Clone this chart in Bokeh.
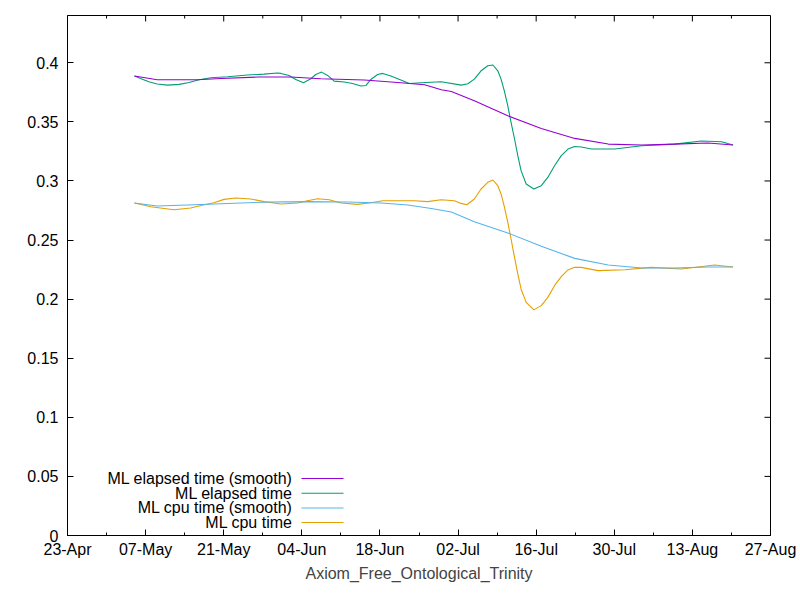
import pandas as pd
from bokeh.plotting import figure
from bokeh.models import (FixedTicker, DatetimeTickFormatter, Range1d, Label, BoxAnnotation)
from bokeh.embed import file_html
from bokeh.resources import INLINE

# ---------------- data ----------------
elapsed_dates = ["2019-05-05 00:00", "2019-05-06 02:00", "2019-05-07 14:00", "2019-05-09 02:00",
                 "2019-05-10 22:00", "2019-05-13 00:00", "2019-05-14 19:00", "2019-05-16 14:00",
                 "2019-05-18 17:00", "2019-05-21 17:00", "2019-05-25 06:00", "2019-05-28 05:00",
                 "2019-05-30 14:00", "2019-05-31 06:00", "2019-06-01 17:00", "2019-06-02 22:00",
                 "2019-06-04 07:00", "2019-06-05 15:00", "2019-06-06 12:00", "2019-06-07 13:00",
                 "2019-06-08 15:00", "2019-06-09 19:00", "2019-06-11 14:00", "2019-06-13 02:00",
                 "2019-06-14 14:00", "2019-06-15 12:00", "2019-06-16 09:00", "2019-06-17 14:00",
                 "2019-06-18 12:00", "2019-06-19 23:00", "2019-06-21 18:00", "2019-06-23 06:00",
                 "2019-06-25 10:00", "2019-06-29 00:00",
                 "2019-07-02 13:00", "2019-07-03 18:00", "2019-07-04 22:00", "2019-07-06 03:00",
                 "2019-07-07 08:00", "2019-07-08 06:00", "2019-07-09 03:00", "2019-07-09 17:00",
                 "2019-07-10 07:00", "2019-07-10 22:00", "2019-07-11 12:00", "2019-07-12 03:00",
                 "2019-07-12 17:00", "2019-07-13 07:00", "2019-07-14 05:00", "2019-07-15 14:00",
                 "2019-07-16 22:00", "2019-07-18 02:00", "2019-07-19 07:00", "2019-07-20 12:00",
                 "2019-07-21 17:00", "2019-07-22 21:00", "2019-07-24 02:00", "2019-07-25 22:00",
                 "2019-07-30 02:00", "2019-08-03 22:00", "2019-08-09 19:00", "2019-08-14 14:00",
                 "2019-08-18 05:00", "2019-08-20 07:00"]
elapsed_values = [0.3888, 0.3867, 0.3839, 0.3820, 0.3811, 0.3817, 0.3833, 0.3856,
                  0.3873, 0.3882, 0.3896, 0.3904, 0.3913, 0.3910, 0.3893, 0.3859,
                  0.3831, 0.3865, 0.3901, 0.3921, 0.3893, 0.3845, 0.3837, 0.3825,
                  0.3803, 0.3808, 0.3859, 0.3901, 0.3910, 0.3888, 0.3854, 0.3825,
                  0.3831, 0.3839,
                  0.3811, 0.3822, 0.3862, 0.3932, 0.3975, 0.3981, 0.3932, 0.3862,
                  0.3763, 0.3636, 0.3495, 0.3355, 0.3214, 0.3087, 0.2974, 0.2932,
                  0.2960, 0.3030, 0.3129, 0.3214, 0.3270, 0.3292, 0.3287, 0.3270,
                  0.3270, 0.3298, 0.3312, 0.3338, 0.3332, 0.3304]

elapsed_smooth_dates = ["2019-05-05 00:00", "2019-05-09 02:00", "2019-05-16 07:00", "2019-05-20 12:00",
                        "2019-05-27 02:00", "2019-06-02 00:00", "2019-06-07 10:00", "2019-06-15 05:00",
                        "2019-06-21 05:00", "2019-06-26 00:00", "2019-06-29 00:00", "2019-06-30 19:00",
                        "2019-07-04 22:00", "2019-07-10 22:00", "2019-07-16 22:00", "2019-07-22 22:00",
                        "2019-07-28 22:00", "2019-08-03 22:00", "2019-08-09 19:00", "2019-08-15 19:00",
                        "2019-08-20 07:00"]
elapsed_smooth_values = [0.3888, 0.3856, 0.3856, 0.3867, 0.3879, 0.3879, 0.3865, 0.3854,
                         0.3833, 0.3814, 0.3772, 0.3757, 0.3679, 0.3552, 0.3444, 0.3360,
                         0.3312, 0.3304, 0.3312, 0.3321, 0.3304]

cpu_dates = ["2019-05-05 00:00", "2019-05-07 22:00", "2019-05-12 02:00", "2019-05-15 02:00",
             "2019-05-16 22:00", "2019-05-19 06:00", "2019-05-21 01:00", "2019-05-23 04:00",
             "2019-05-25 20:00", "2019-05-28 06:00", "2019-05-31 06:00", "2019-06-03 06:00",
             "2019-06-05 00:00", "2019-06-06 20:00", "2019-06-08 22:00", "2019-06-11 00:00",
             "2019-06-14 00:00", "2019-06-16 09:00", "2019-06-18 12:00", "2019-06-24 04:00",
             "2019-06-26 13:00", "2019-06-28 23:00", "2019-07-01 08:00", "2019-07-02 13:00",
             "2019-07-03 14:00", "2019-07-04 22:00", "2019-07-06 03:00",
             "2019-07-07 08:00", "2019-07-08 06:00", "2019-07-09 03:00", "2019-07-09 17:00",
             "2019-07-10 07:00", "2019-07-10 22:00", "2019-07-11 12:00", "2019-07-12 03:00",
             "2019-07-12 17:00", "2019-07-13 07:00", "2019-07-14 05:00", "2019-07-15 14:00",
             "2019-07-16 22:00", "2019-07-18 02:00", "2019-07-19 07:00", "2019-07-20 12:00",
             "2019-07-21 17:00", "2019-07-22 21:00", "2019-07-24 02:00", "2019-07-27 02:00",
             "2019-07-31 22:00", "2019-08-05 14:00", "2019-08-11 00:00", "2019-08-17 00:00",
             "2019-08-20 07:00"]
cpu_values = [0.2814, 0.2782, 0.2757, 0.2771, 0.2793, 0.2816, 0.2844, 0.2856,
              0.2847, 0.2825, 0.2805, 0.2814, 0.2833, 0.2850, 0.2841, 0.2814,
              0.2802, 0.2816, 0.2833, 0.2833, 0.2825, 0.2841, 0.2833, 0.2810,
              0.2799, 0.2847, 0.2932,
              0.2988, 0.3008, 0.2960, 0.2890, 0.2782, 0.2649, 0.2509, 0.2353,
              0.2213, 0.2086, 0.1973, 0.1909, 0.1945, 0.2015, 0.2114, 0.2190,
              0.2247, 0.2269, 0.2269, 0.2241, 0.2249, 0.2269, 0.2255, 0.2289,
              0.2272]

cpu_smooth_dates = ["2019-05-05 00:00", "2019-05-09 02:00", "2019-05-14 12:00", "2019-05-19 07:00",
                    "2019-05-24 02:00", "2019-05-29 10:00", "2019-06-05 00:00", "2019-06-12 05:00",
                    "2019-06-18 05:00", "2019-06-23 00:00", "2019-06-27 05:00", "2019-06-30 19:00",
                    "2019-07-04 22:00", "2019-07-10 22:00", "2019-07-16 22:00", "2019-07-22 22:00",
                    "2019-07-28 22:00", "2019-08-03 22:00", "2019-08-09 19:00", "2019-08-15 19:00",
                    "2019-08-20 07:00"]
cpu_smooth_values = [0.2814, 0.2788, 0.2797, 0.2805, 0.2814, 0.2822, 0.2825, 0.2822,
                     0.2814, 0.2797, 0.2767, 0.2737, 0.2655, 0.2560, 0.2447, 0.2345,
                     0.2289, 0.2264, 0.2264, 0.2272, 0.2272]

x_tick_dates = ["2019-04-23", "2019-05-07", "2019-05-21", "2019-06-04", "2019-06-18",
                "2019-07-02", "2019-07-16", "2019-07-30", "2019-08-13", "2019-08-27"]
x_minor_dates = ["2019-04-30", "2019-05-14", "2019-05-28", "2019-06-11", "2019-06-25",
                 "2019-07-09", "2019-07-23", "2019-08-06", "2019-08-20"]
y_ticks = [0, 0.05, 0.1, 0.15, 0.2, 0.25, 0.3, 0.35, 0.4]
y_tick_labels = ["0", "0.05", "0.1", "0.15", "0.2", "0.25", "0.3", "0.35", "0.4"]
y_max = 0.44

series_names = ["ML elapsed time (smooth)", "ML elapsed time", "ML cpu time (smooth)", "ML cpu time"]
series_colors = ["#9400D3", "#009E73", "#56B4E9", "#E69F00"]
x_title = "Axiom_Free_Ontological_Trinity"

# ---------------- figure ----------------
FONT = "Liberation Sans"
FS = "16px"
W, H = 800, 600
BL, BR, BT, BB = 67, 30, 15, 65
FW, FH = W - BL - BR, H - BT - BB


def ms(s):
    return pd.Timestamp(s).value / 1e6


x0, x1 = ms(x_tick_dates[0]), ms(x_tick_dates[-1])
p = figure(width=W, height=H, output_backend="svg", toolbar_location=None,
           x_axis_type="datetime",
           x_range=Range1d(x0, x1), y_range=Range1d(0, y_max),
           min_border_left=BL, min_border_right=BR, min_border_top=BT, min_border_bottom=BB)
p.background_fill_color = "white"
p.border_fill_color = "white"
p.outline_line_color = "black"
p.outline_line_width = 1
p.xgrid.visible = False
p.ygrid.visible = False

xt = FixedTicker(ticks=[ms(d) for d in x_tick_dates], minor_ticks=[ms(d) for d in x_minor_dates])
yt = FixedTicker(ticks=y_ticks, minor_ticks=[])
fmt = DatetimeTickFormatter(milliseconds="%d-%b", seconds="%d-%b", minsec="%d-%b",
                            minutes="%d-%b", hourmin="%d-%b", hours="%d-%b", days="%d-%b",
                            months="%d-%b", years="%d-%b")

for ax in (p.xaxis[0], p.yaxis[0]):
    ax.axis_line_color = "black"
    ax.major_tick_line_color = "black"
    ax.minor_tick_line_color = "black"
    ax.major_tick_in = 6
    ax.major_tick_out = 0
    ax.minor_tick_in = 3
    ax.minor_tick_out = 0
    ax.major_label_text_font = FONT
    ax.major_label_text_font_size = FS
    ax.major_label_text_color = "black"

xa = p.xaxis[0]
xa.ticker = xt
xa.formatter = fmt
xa.major_label_standoff = 5
xa.axis_label = x_title
xa.axis_label_text_font = FONT
xa.axis_label_text_font_size = FS
xa.axis_label_text_font_style = "normal"
xa.axis_label_standoff = 4

ya = p.yaxis[0]
ya.ticker = yt
ya.major_label_overrides = {t: l for t, l in zip(y_ticks, y_tick_labels)}
ya.major_label_standoff = 9

# mirrored ticks on top and right border (gnuplot style)
dx_major = 6 * (x1 - x0) / FW
dy_major = 6 * y_max / FH
dy_minor = 3 * y_max / FH
top_x = [ms(d) for d in x_tick_dates]
top_minor = [ms(d) for d in x_minor_dates]
p.segment(x0=top_x, y0=[y_max] * len(top_x), x1=top_x, y1=[y_max - dy_major] * len(top_x),
          line_color="black", line_width=1)
p.segment(x0=top_minor, y0=[y_max] * len(top_minor), x1=top_minor,
          y1=[y_max - dy_minor] * len(top_minor), line_color="black", line_width=1)
p.segment(x0=[x1] * len(y_ticks), y0=y_ticks, x1=[x1 - dx_major] * len(y_ticks), y1=y_ticks,
          line_color="black", line_width=1)

# ---------------- lines ----------------
series = [
    (elapsed_smooth_dates, elapsed_smooth_values),
    (elapsed_dates, elapsed_values),
    (cpu_smooth_dates, cpu_smooth_values),
    (cpu_dates, cpu_values),
]
for i in [3, 2, 1, 0]:
    d, v = series[i]
    p.line(pd.to_datetime(d), v, line_color=series_colors[i], line_width=1.1)

# ---------------- legend (gnuplot style: text then sample) ----------------
leg_y = [57, 42.3, 27.6, 12.9]
for name, col, yy in zip(series_names, series_colors, leg_y):
    p.add_layout(Label(x=225, y=yy, x_units="screen", y_units="screen", text=name,
                       text_align="right", text_baseline="middle",
                       text_font=FONT, text_font_size=FS, text_color="black"))
    p.add_layout(BoxAnnotation(left=234, right=276, bottom=yy - 0.5, top=yy + 0.5,
                               left_units="screen", right_units="screen",
                               bottom_units="screen", top_units="screen",
                               fill_color=col, fill_alpha=1, line_color=None))

open("out.html", "w").write(file_html(p, INLINE))
